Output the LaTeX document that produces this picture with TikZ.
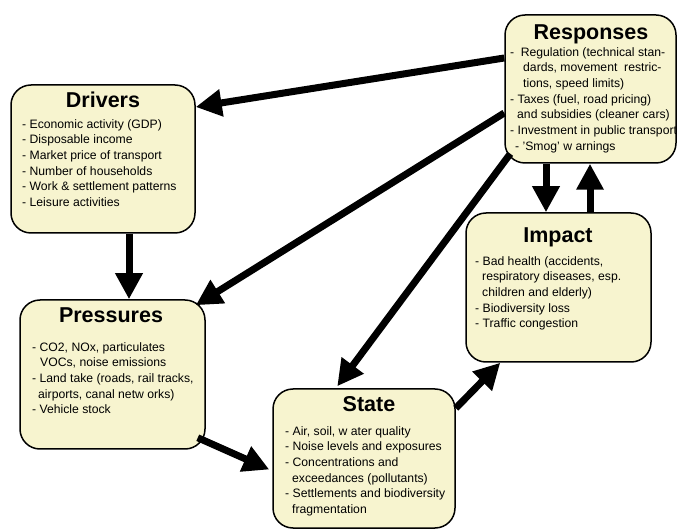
\documentclass[tikz,border=0pt]{standalone}
\usepackage{fontspec}
\setmainfont{Liberation Sans}
\usetikzlibrary{arrows.meta}
\definecolor{boxfill}{RGB}{247,244,207}
\begin{document}
\begin{tikzpicture}[x=1pt,y=-1pt,
  dpsbox/.style={draw=black, line width=1.5pt, fill=boxfill, rounded corners=20pt, inner sep=0pt},
  ttl/.style={anchor=base, inner sep=0pt, font=\fontsize{21.5}{24}\selectfont\bfseries},
  body/.style={anchor=north west, inner sep=0pt, align=left, font=\fontsize{12.2}{15.7}\selectfont},
  flow/.style={line width=7pt, -{Triangle[length=26pt,width=26pt]}}
]
\useasboundingbox (0,0) rectangle (678,529);

% boxes
\node[dpsbox, minimum width=184pt, minimum height=148pt] (drv) at (103,159) {};
\node[dpsbox, minimum width=171pt, minimum height=148pt] (resp) at (590.5,89) {};
\node[dpsbox, minimum width=185pt, minimum height=149pt] (pres) at (112.5,374.5) {};
\node[dpsbox, minimum width=185pt, minimum height=149pt] (imp) at (558.5,287.5) {};
\node[dpsbox, minimum width=182pt, minimum height=139pt] (state) at (364,458.5) {};

% titles
\node[ttl] (drvT) at (103,108) {Drivers};
\node[ttl] (respT) at (591,40) {Responses};
\node[ttl] (presT) at (111,323) {Pressures};
\node[ttl] (impT) at (558,243) {Impact};
\node[ttl] (stateT) at (369,412) {State};

% bodies
\node[body] (drvB) at (22,119) {- Economic activity (GDP)\\- Disposable income\\- Market price of transport\\- Number of households\\- Work \& settlement patterns\\- Leisure activities};
\node[body] (respB) at (510,47) {-\hspace{6.5pt}Regulation (technical stan-\\\hspace*{13pt}dards, movement\ \ restric-\\\hspace*{13pt}tions, speed limits)\\- Taxes (fuel, road pricing)\\\hspace*{7pt}and subsidies (cleaner cars)\\- Investment in public transport\\\hspace*{5pt}- 'Smog' w arnings};
\node[body] (presB) at (32,342) {- CO2, NOx, particulates\\\hspace*{8pt}VOCs, noise emissions\\- Land take (roads, rail tracks,\\\hspace*{6pt}airports, canal netw orks)\\- Vehicle stock};
\node[body] (impB) at (475,256) {- Bad health (accidents,\\\hspace*{7pt}respiratory diseases, esp.\\\hspace*{7pt}children and elderly)\\- Biodiversity loss\\- Traffic congestion};
\node[body] (stateB) at (285,426) {- Air, soil, w ater quality\\- Noise levels and exposures\\- Concentrations and\\\hspace*{7pt}exceedances (pollutants)\\- Settlements and biodiversity\\\hspace*{7pt}fragmentation};

% connectors
\draw[flow] ([yshift=31pt]resp.west) -- ([yshift=52pt]drv.east);
\draw[flow] ([yshift=-24pt]resp.west) -- ([shift={(-10pt,-6pt)}]pres.north east);
\draw[flow] ([shift={(6pt,10pt)}]resp.south west) -- ([shift={(65pt,2pt)}]state.north west);
\draw[flow] ([xshift=26pt]drv.south) -- ([xshift=26pt]drv.south |- pres.north);
\draw[flow] ([shift={(-8pt,12pt)}]pres.south east) -- ([shift={(-3pt,-11pt)}]state.west);
\draw[flow] ([yshift=-20pt]state.north east) -- ([xshift=35pt]imp.south west);
\draw[flow] ([xshift=-44.5pt]resp.south) -- ([xshift=-44.5pt]resp.south |- imp.north);
\draw[flow] ([xshift=31.5pt]imp.north) -- ([xshift=31.5pt]imp.north |- resp.south);
\end{tikzpicture}
\end{document}
